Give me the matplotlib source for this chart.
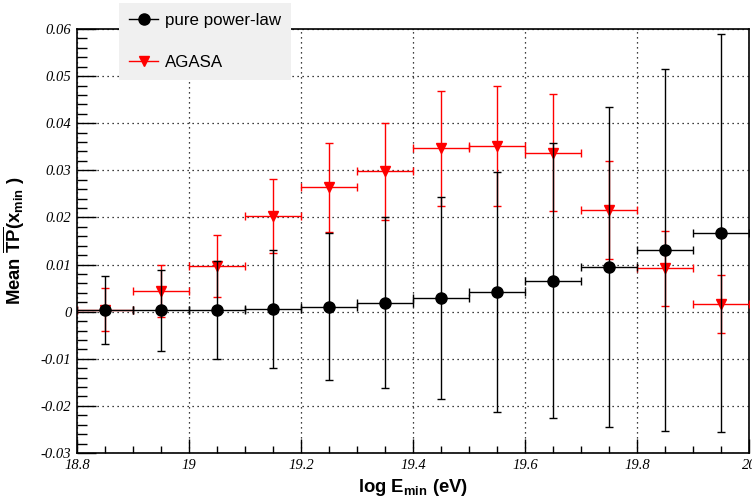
import matplotlib
matplotlib.use("Agg")
import matplotlib.pyplot as plt
from matplotlib.lines import Line2D
from matplotlib.ticker import MultipleLocator, FixedFormatter, FixedLocator

# ---- data ----
x_centers = [18.85, 18.95, 19.05, 19.15, 19.25, 19.35, 19.45, 19.55, 19.65, 19.75, 19.85, 19.95]
x_halfwidth = [0.05] * 12

power_law = [0.0003, 0.0003, 0.0004, 0.0005, 0.0010, 0.0019, 0.0029, 0.0042, 0.0066, 0.0095, 0.0131, 0.0167]
power_law_err = [0.0072, 0.0086, 0.0104, 0.0125, 0.0156, 0.0182, 0.0214, 0.0254, 0.0291, 0.0340, 0.0384, 0.0422]

agasa = [0.0004, 0.0044, 0.0097, 0.0203, 0.0264, 0.0298, 0.0347, 0.0352, 0.0337, 0.0215, 0.0092, 0.0016]
agasa_err = [0.0046, 0.0055, 0.0065, 0.0078, 0.0094, 0.0103, 0.0122, 0.0128, 0.0124, 0.0104, 0.0079, 0.0061]

xticks = [18.8, 19.0, 19.2, 19.4, 19.6, 19.8, 20.0]
xtick_labels = ["18.8", "19", "19.2", "19.4", "19.6", "19.8", "20"]
yticks = [-0.03, -0.02, -0.01, 0.0, 0.01, 0.02, 0.03, 0.04, 0.05, 0.06]
ytick_labels = ["-0.03", "-0.02", "-0.01", "0", "0.01", "0.02", "0.03", "0.04", "0.05", "0.06"]

plt.rcParams['mathtext.fontset'] = 'custom'
plt.rcParams['mathtext.rm'] = 'Liberation Sans'
plt.rcParams['mathtext.bf'] = 'Liberation Sans:bold'
plt.rcParams['mathtext.it'] = 'Liberation Sans:italic'

fig = plt.figure(figsize=(7.52, 5.01), dpi=100)
ax = fig.add_axes([77 / 752, 1 - 453 / 501, (749 - 77) / 752, (453 - 29) / 501])

ax.errorbar(x_centers, agasa, xerr=x_halfwidth, yerr=agasa_err, fmt='v', color='#ff0000',
            ecolor='#ff0000', markersize=7, elinewidth=1.0, capsize=3, capthick=1.0, zorder=3)
ax.errorbar(x_centers, power_law, xerr=x_halfwidth, yerr=power_law_err, fmt='o', color='black',
            ecolor='black', markersize=8, elinewidth=1.0, capsize=3, capthick=1.0, zorder=4)

ax.set_xlim(18.8, 20.0)
ax.set_ylim(-0.03, 0.06)

ax.xaxis.set_major_locator(FixedLocator(xticks))
ax.xaxis.set_major_formatter(FixedFormatter(xtick_labels))
ax.xaxis.set_minor_locator(MultipleLocator(0.05))
ax.yaxis.set_major_locator(FixedLocator(yticks))
ax.yaxis.set_major_formatter(FixedFormatter(ytick_labels))
ax.yaxis.set_minor_locator(MultipleLocator(0.002))

ax.tick_params(axis='x', which='major', direction='in', length=10, width=1.0, top=False, pad=4)
ax.tick_params(axis='x', which='minor', direction='in', length=5, width=1.0, top=False)
ax.tick_params(axis='y', which='major', direction='in', length=14, width=1.0, right=False, pad=4)
ax.tick_params(axis='y', which='minor', direction='in', length=7, width=1.0, right=False)

for lbl in ax.get_xticklabels() + ax.get_yticklabels():
    lbl.set_fontfamily('Liberation Serif')
    lbl.set_fontstyle('italic')
    lbl.set_fontsize(10.5)

ax.grid(True, which='major', color='black', linestyle=(0, (1, 3)), linewidth=0.9)
for s in ax.spines.values():
    s.set_linewidth(1.2)

ax.set_xlabel(r'log $\mathbf{E_{min}}$ (eV)', fontsize=13.3, fontweight='bold',
              fontfamily='Liberation Sans', labelpad=4)
ax.set_ylabel(r'Mean $\mathbf{\overline{TP}(x_{min}\ )}$', fontsize=13.3, fontweight='bold',
              fontfamily='Liberation Sans', labelpad=10)

handles = [Line2D([], [], color='black', marker='o', markersize=8, lw=1.0),
           Line2D([], [], color='#ff0000', marker='v', markersize=7, lw=1.0)]
leg = fig.legend(handles, ['pure power-law', 'AGASA'], loc='upper left',
                 bbox_to_anchor=(119 / 752, 1 - 3 / 501), frameon=True, fancybox=False,
                 facecolor='#f0f0f0', edgecolor='none', framealpha=1.0,
                 prop={'family': 'Liberation Sans', 'size': 12.2},
                 handlelength=1.7, labelspacing=1.6, borderpad=0.6, handletextpad=0.4,
                 borderaxespad=0)
leg.set_zorder(10)

fig.savefig('out.png', dpi=100)
